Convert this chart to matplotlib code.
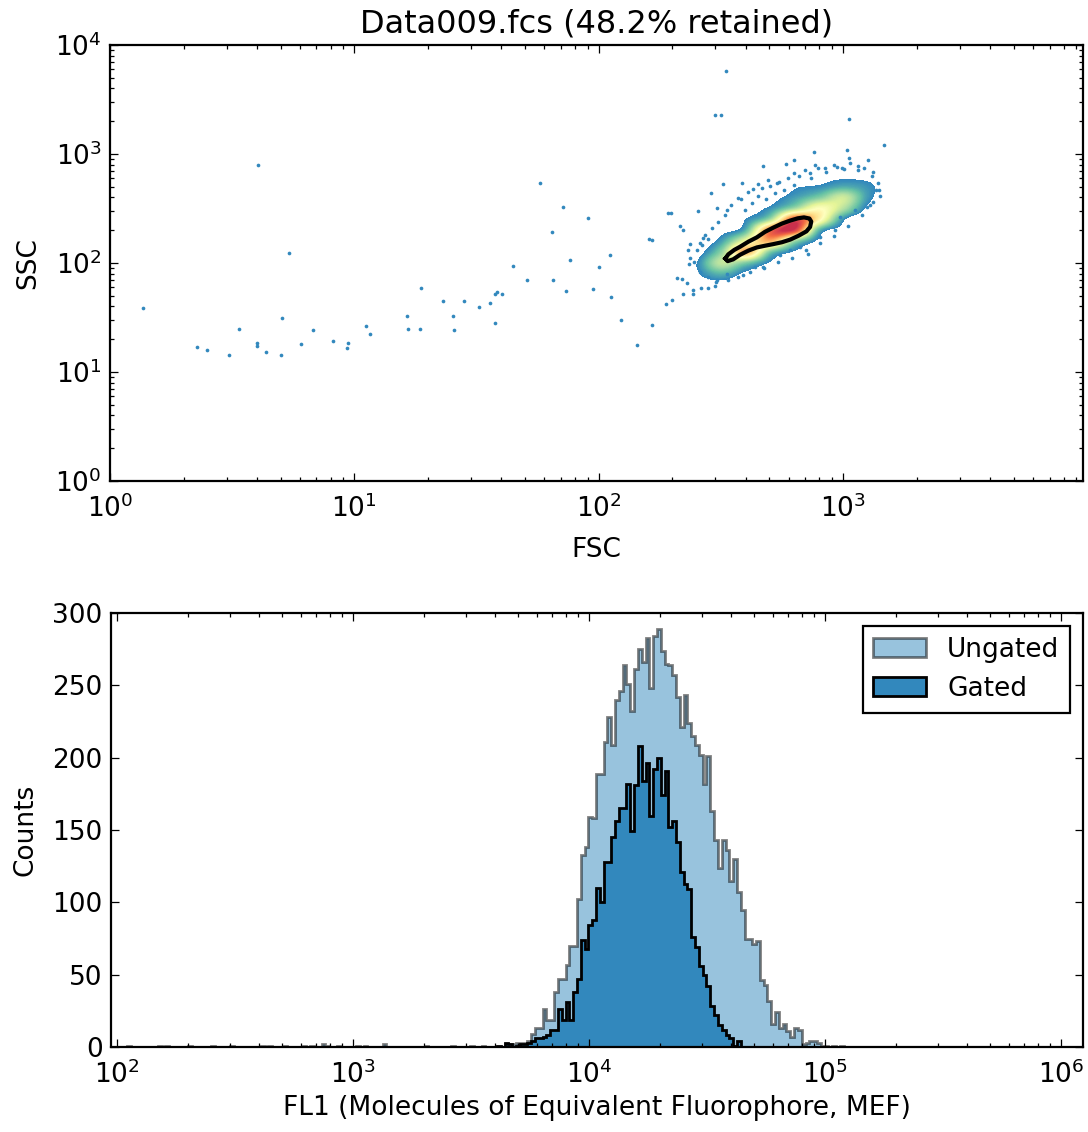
import numpy as np
import matplotlib
matplotlib.use("Agg")
import matplotlib.pyplot as plt
from matplotlib.colors import ListedColormap, Normalize

# ---------------- top panel: FSC vs SSC ----------------
# isolated events (debris + fringe of the main population)
fsc_events = [1.36, 4.04, 5.4, 2.27, 2.5, 3.07, 3.37, 4.0, 4.0, 4.35, 5.05, 5.0, 6.06,
              6.8, 8.2, 9.3, 9.4, 11.2, 11.6, 16.4, 16.6, 18.6, 18.8, 23, 25.3, 25.5,
              28, 32.3, 35.8, 37.6, 38.3, 40.2, 37.6, 44.5, 50.8, 57.4, 64.4, 65, 71.5,
              73.5, 76.6, 90.5, 95, 100, 111, 112, 123, 144, 165, 165, 192, 300, 318,
              331, 1060, 1470,
              762, 1037, 1059, 1271, 472, 583, 769, 845, 627, 943, 1010, 1146, 733,
              1331, 1393, 322, 385, 448, 495, 288, 381, 430, 539, 305, 336, 255, 197,
              215, 221, 161, 237, 231, 267, 281, 264, 237, 234, 209, 219, 229, 221,
              244, 244, 262, 281, 299, 390, 437, 472, 720, 607, 925, 973, 1122, 1250,
              189, 199, 334, 304, 553, 667, 806, 1331, 1397, 627,
              348, 372, 397, 409, 425, 449, 467, 484, 503, 527, 547, 574, 596, 631,
              661, 700, 740, 791, 853, 920, 991, 1069, 1153, 1220, 1315, 1367, 1419,
              329, 308, 291, 273, 260, 253, 246, 260, 281, 303, 339, 372, 417, 476,
              542, 619, 706, 806, 920, 1050, 1197, 1291]
ssc_events = [38.5, 793, 123, 17, 15.9, 14.3, 25, 18.5, 17.5, 15.3, 31, 14.3, 18,
              24.3, 19.2, 16.6, 18.4, 26.4, 22.3, 32.7, 24.8, 24.8, 58.7, 44.9, 32.7, 24.3,
              44.9, 39.3, 43, 51.8, 54, 51.8, 28.1, 93.8, 69.8, 543, 192, 70, 326,
              55, 106, 260, 58, 92, 118, 49, 30, 17.6, 27, 162, 288, 2300, 2300,
              5770, 2090, 1200,
              1050, 1089, 914, 881, 776, 805, 793, 739, 673, 765, 724, 776, 665,
              688, 542, 531, 538, 531, 577, 442, 389, 474, 538, 320, 306, 300, 289,
              218, 201, 166, 149, 132, 171, 167, 146, 111, 98, 73, 72, 65, 52,
              52, 57, 59, 59, 61, 78, 92, 92, 121, 132, 201, 266, 306, 329,
              42, 46, 80, 70, 118, 141, 174, 365, 468, 881,
              341, 395, 306, 448, 355, 412, 488, 386, 509, 439, 553, 467, 603, 520,
              628, 713, 603, 744, 684, 793, 744, 826, 713, 744, 628, 467, 412,
              275, 238, 209, 181, 153, 132, 102, 83, 74, 67, 70, 74, 83, 90,
              102, 111, 132, 153, 177, 218, 275, 341]

# density of the main population on a log10 grid (rows: SSC, cols: FSC)
kde_log_fsc = [2.3, 2.4, 2.5, 2.6, 2.7, 2.8, 2.9, 3.0, 3.1, 3.2]
kde_log_ssc = [1.6, 1.7, 1.8, 1.9, 2.0, 2.1, 2.2, 2.3, 2.4, 2.5, 2.6, 2.7, 2.8, 2.9, 3.0]
kde_density = [
    [0.0, 0.0, 0.0, 0.0, 0.0, 0.0, 0.0, 0.0, 0.0, 0.0],
    [0.0, 0.0, 0.0, 0.0, 0.0, 0.0, 0.0, 0.0, 0.0, 0.0],
    [0.0, 0.2, 0.2, 0.0, 0.0, 0.0, 0.0, 0.0, 0.0, 0.0],
    [0.0, 0.5, 1.4, 0.4, 0.0, 0.0, 0.0, 0.0, 0.0, 0.0],
    [0.0, 0.6, 3.0, 2.0, 0.5, 0.0, 0.0, 0.0, 0.0, 0.0],
    [0.0, 0.2, 2.2, 6.5, 2.0, 0.5, 0.0, 0.0, 0.0, 0.0],
    [0.0, 0.0, 1.0, 4.0, 6.5, 2.5, 0.4, 0.0, 0.0, 0.0],
    [0.0, 0.0, 0.3, 1.4, 7.5, 8.5, 1.5, 0.3, 0.0, 0.0],
    [0.0, 0.0, 0.0, 0.6, 2.5, 8.0, 5.0, 0.8, 0.0, 0.0],
    [0.0, 0.0, 0.0, 0.2, 0.8, 2.5, 4.5, 2.8, 0.4, 0.0],
    [0.0, 0.0, 0.0, 0.0, 0.3, 1.0, 2.0, 3.2, 0.9, 0.0],
    [0.0, 0.0, 0.0, 0.0, 0.0, 0.5, 0.7, 1.2, 0.8, 0.0],
    [0.0, 0.0, 0.0, 0.0, 0.0, 0.0, 0.3, 0.4, 0.3, 0.0],
    [0.0, 0.0, 0.0, 0.0, 0.0, 0.0, 0.0, 0.0, 0.0, 0.0],
    [0.0, 0.0, 0.0, 0.0, 0.0, 0.0, 0.0, 0.0, 0.0, 0.0],
]

# density gate contour (FSC, SSC)
gate_fsc = [330, 339, 359, 379, 410, 444, 479, 518, 562, 608, 653, 692, 728, 741,
            733, 708, 658, 608, 562, 518, 479, 444, 410, 379, 355, 337, 330]
gate_ssc = [110, 120, 132, 141, 157, 172, 193, 211, 230, 245, 257, 262, 256, 240,
            214, 195, 178, 164, 155, 149, 144, 139, 130, 119, 108, 104, 110]

# ---------------- bottom panel: FL1 histogram ----------------
fl1_bin_range = (10 ** 1.9631, 10 ** 6.0959)   # 256 log bins
ungated_counts = [
    0, 0, 0, 0, 0, 1, 0, 0, 0, 0, 0, 0, 0, 1, 0, 1,
    0, 0, 0, 0, 0, 1, 0, 0, 0, 0, 0, 1, 0, 0, 0, 0,
    1, 0, 0, 0, 0, 0, 0, 0, 1, 0, 1, 0, 0, 0, 1, 0,
    0, 0, 0, 1, 0, 1, 0, 0, 2, 1, 0, 0, 1, 0, 0, 0,
    0, 1, 0, 1, 0, 0, 0, 0, 2, 0, 0, 0, 0, 0, 0, 0,
    0, 0, 0, 1, 0, 0, 0, 0, 0, 0, 1, 0, 0, 0, 0, 1,
    0, 0, 1, 0, 0, 0, 0, 0, 2, 2, 2, 3, 3, 3, 4, 9,
    13, 13, 26, 19, 19, 38, 47, 47, 57, 70, 70, 102, 133, 138, 159, 158,
    189, 189, 211, 228, 209, 240, 246, 264, 251, 232, 261, 275, 266, 283, 248, 284,
    289, 274, 265, 264, 257, 242, 221, 243, 224, 215, 209, 202, 182, 201, 163, 143,
    124, 143, 136, 115, 130, 107, 95, 75, 75, 71, 73, 46, 43, 32, 16, 24,
    13, 16, 11, 7, 13, 12, 2, 3, 4, 4, 3, 1, 1, 0, 1, 0,
    1, 0, 0, 0, 0, 0, 0, 0, 0, 0, 0, 0, 0, 0, 0, 0,
    0, 0, 0, 0, 0, 0, 0, 0, 0, 0, 0, 0, 0, 0, 0, 0,
    0, 0, 0, 0, 0, 0, 0, 0, 0, 0, 0, 0, 0, 0, 0, 0,
    0, 0, 0, 0, 0, 0, 0, 0, 0, 0, 0, 0, 0, 0, 0, 0,
]
gated_counts = [
    0, 0, 0, 0, 0, 0, 0, 0, 0, 0, 0, 0, 0, 0, 0, 0,
    0, 0, 0, 0, 0, 0, 0, 0, 0, 0, 0, 0, 0, 0, 0, 0,
    0, 0, 0, 0, 0, 0, 0, 0, 0, 0, 0, 0, 0, 0, 0, 0,
    0, 0, 0, 0, 0, 0, 0, 0, 0, 0, 0, 0, 0, 0, 0, 0,
    0, 0, 0, 0, 0, 0, 0, 0, 0, 0, 0, 0, 0, 0, 0, 0,
    0, 0, 0, 0, 0, 0, 0, 0, 0, 0, 0, 0, 0, 0, 0, 0,
    0, 0, 0, 0, 0, 0, 1, 0, 3, 2, 0, 1, 2, 2, 3, 4,
    6, 6, 7, 8, 12, 12, 26, 19, 31, 19, 38, 47, 74, 68, 84, 88,
    110, 100, 128, 128, 145, 156, 165, 165, 182, 149, 181, 208, 184, 196, 160, 192,
    200, 174, 191, 152, 156, 142, 121, 113, 109, 76, 69, 56, 50, 42, 28, 22,
    15, 12, 8, 6, 1, 4, 0, 0, 0, 0, 0, 0, 0, 0, 0, 0,
    0, 0, 0, 0, 0, 0, 0, 0, 0, 0, 0, 0, 0, 0, 0, 0,
    0, 0, 0, 0, 0, 0, 0, 0, 0, 0, 0, 0, 0, 0, 0, 0,
    0, 0, 0, 0, 0, 0, 0, 0, 0, 0, 0, 0, 0, 0, 0, 0,
    0, 0, 0, 0, 0, 0, 0, 0, 0, 0, 0, 0, 0, 0, 0, 0,
    0, 0, 0, 0, 0, 0, 0, 0, 0, 0, 0, 0, 0, 0, 0, 0,
]

plt.rcParams['font.family'] = ['DejaVu Sans']
plt.rcParams['mathtext.fontset'] = 'dejavusans'

blue = '#3288bd'
cmap = ListedColormap(plt.get_cmap('Spectral_r')(np.linspace(0.1, 0.92, 256)))
cmap.set_under((1, 1, 1, 0))

def style_axes(ax):
    for s in ax.spines.values():
        s.set_linewidth(1.6)
    ax.tick_params(which='both', direction='in', top=True, right=True,
                   labelsize=19, width=0.9)
    ax.tick_params(which='major', length=6)
    ax.tick_params(which='minor', length=3)
    ax.tick_params(axis='x', which='both', pad=10)
    ax.tick_params(axis='y', which='both', pad=6)

fig = plt.figure(figsize=(10.88, 11.32), dpi=100)

# ---- top ----
top_rect = [110 / 1088, 1 - 481 / 1132, 973 / 1088, 436 / 1132]
fsc_max = 10 ** 3.982
ax_kde = fig.add_axes(top_rect, frameon=False)
dx = (kde_log_fsc[1] - kde_log_fsc[0]) / 2
dy = (kde_log_ssc[1] - kde_log_ssc[0]) / 2
ax_kde.imshow(np.array(kde_density), origin='lower', aspect='auto',
              interpolation='catrom', cmap=cmap, norm=Normalize(0.6, 8.8),
              extent=[kde_log_fsc[0] - dx, kde_log_fsc[-1] + dx,
                      kde_log_ssc[0] - dy, kde_log_ssc[-1] + dy])
ax_kde.set_xlim(0, np.log10(fsc_max))
ax_kde.set_ylim(0, 4)
ax_kde.axis('off')

ax1 = fig.add_axes(top_rect)
ax1.set_zorder(2)
ax1.patch.set_alpha(0)
ax1.scatter(fsc_events, ssc_events, s=7, color=blue, linewidths=0)
ax1.plot(gate_fsc, gate_ssc, color='black', lw=3, solid_joinstyle='round')
ax1.set_xscale('log')
ax1.set_yscale('log')
ax1.set_xlim(1, fsc_max)
ax1.set_ylim(1, 1e4)
ax1.set_xlabel('FSC', fontsize=19, labelpad=10)
ax1.set_ylabel('SSC', fontsize=19, labelpad=10)
ax1.set_title('Data009.fcs (48.2% retained)', fontsize=23, pad=9)
style_axes(ax1)

# ---- bottom ----
ax2 = fig.add_axes([111 / 1088, 1 - 1047 / 1132, 972 / 1088, 434 / 1132])
edges = np.logspace(np.log10(fl1_bin_range[0]), np.log10(fl1_bin_range[1]),
                    len(ungated_counts) + 1)
ax2.stairs(ungated_counts, edges, fill=True, facecolor=blue, edgecolor='black',
           linewidth=2, alpha=0.5, label='Ungated')
ax2.stairs(gated_counts, edges, fill=True, facecolor=blue, edgecolor='black',
           linewidth=2, label='Gated')
ax2.set_xscale('log')
ax2.set_xlim(10 ** 1.9746, 10 ** 6.093)
ax2.set_ylim(0, 300)
ax2.set_yticks(np.arange(0, 301, 50))
ax2.set_xlabel('FL1 (Molecules of Equivalent Fluorophore, MEF)', fontsize=19)
ax2.set_ylabel('Counts', fontsize=19, labelpad=10)
style_axes(ax2)
leg = ax2.legend(loc='upper right', fontsize=19, fancybox=False, framealpha=1)
leg.get_frame().set_edgecolor('black')
leg.get_frame().set_linewidth(1.6)

fig.savefig('out.png', dpi=100, facecolor='white')
